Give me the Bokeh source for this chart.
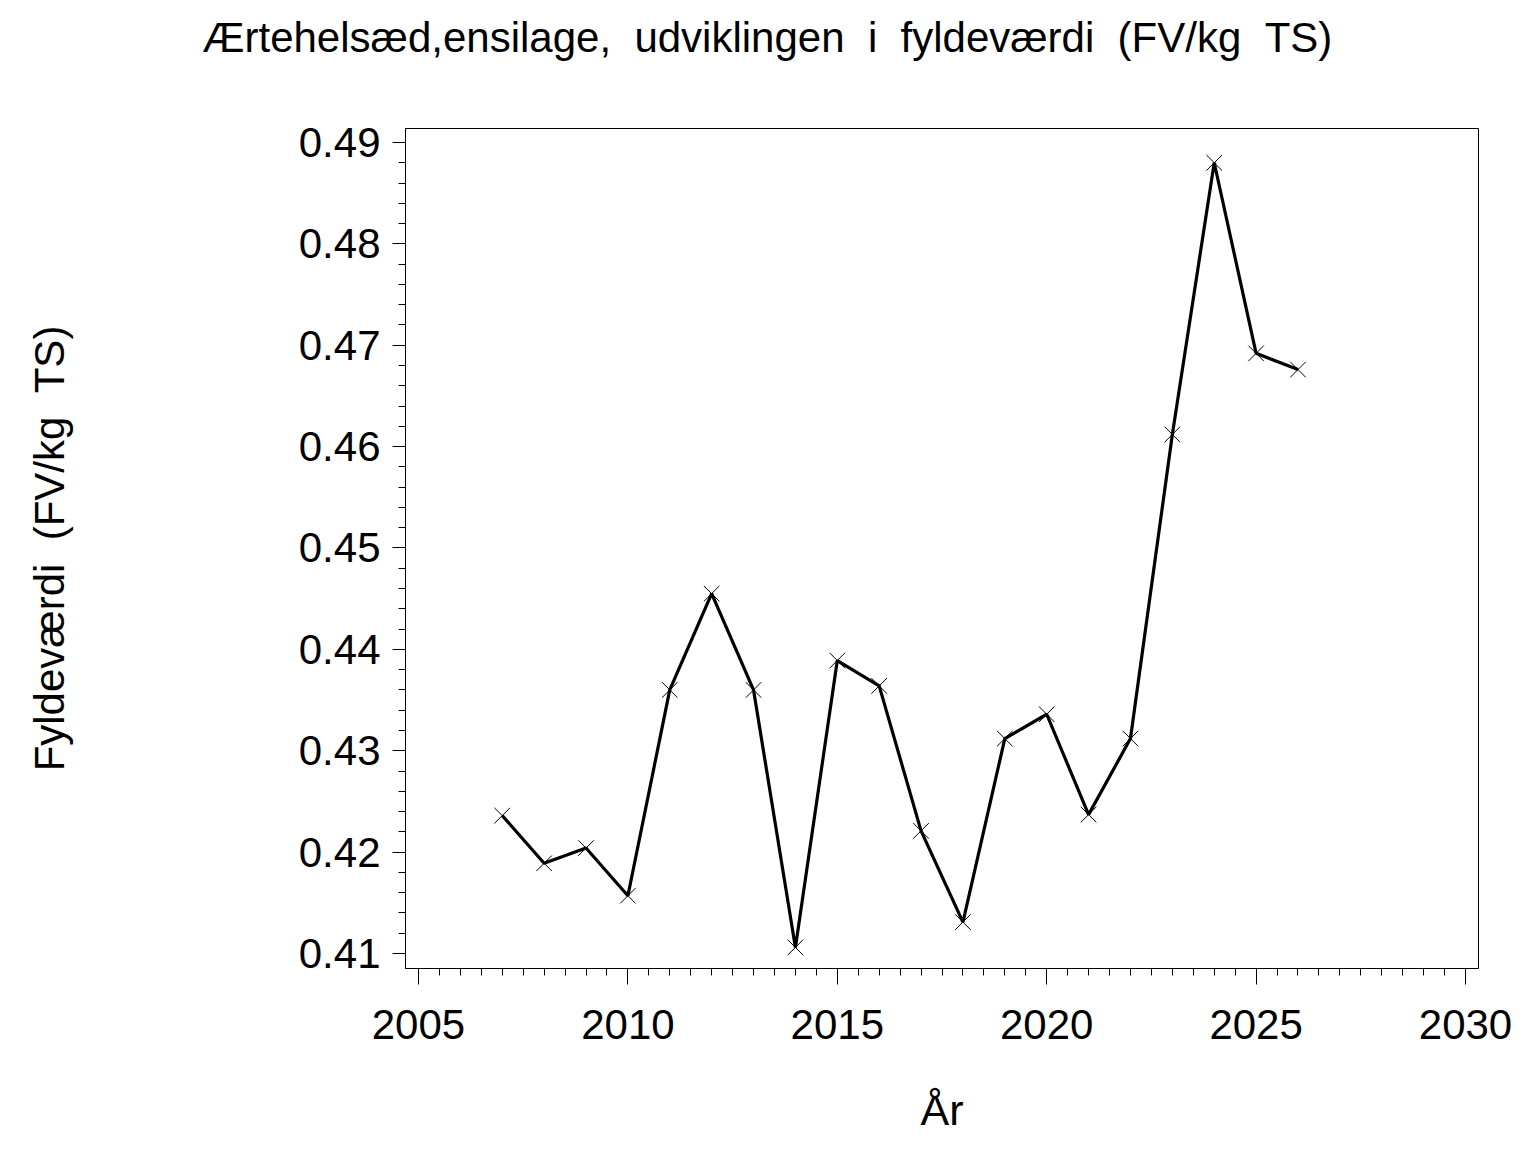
from bokeh.plotting import figure
from bokeh.models import SingleIntervalTicker, PrintfTickFormatter, Range1d
from bokeh.embed import file_html
from bokeh.resources import INLINE

years = [2007, 2008, 2009, 2010, 2011, 2012, 2013, 2014, 2015, 2016,
         2017, 2018, 2019, 2020, 2021, 2022, 2023, 2024, 2025, 2026]
fv = [0.4236, 0.4189, 0.4204, 0.4157, 0.4360, 0.4455, 0.4360, 0.4106, 0.4389, 0.4364,
      0.4221, 0.4131, 0.4312, 0.4336, 0.4237, 0.4312, 0.4612, 0.4880, 0.4692, 0.4676]

NB = "\u00a0"
title_text = f"Ærtehelsæd,ensilage, {NB}udviklingen {NB}i {NB}fyldeværdi {NB}(FV/kg {NB}TS)"
x_label = "År"
y_label = f"Fyldeværdi {NB}(FV/kg {NB}TS)"

FONT = "Liberation Sans"
FS = "42px"

W, H = 1520, 1136
FL, FR, FT, FB = 405, 1478, 128, 970   # frame edges in picture pixels

p = figure(width=W, height=H, output_backend="svg", toolbar_location=None,
           x_range=Range1d(2004.69, 2030.31), y_range=Range1d(0.40852, 0.49138),
           min_border_left=FL, min_border_right=W - FR,
           min_border_top=FT, min_border_bottom=H - FB)

p.line(years, fv, line_color="black", line_width=3.2)
p.scatter(years, fv, marker="x", size=22, line_color="black", line_width=1)

p.grid.visible = False
p.outline_line_color = "black"
p.outline_line_width = 1
p.background_fill_color = "white"
p.border_fill_color = "white"

# title: left part of the page, high above the frame (blank 2nd line lifts it)
p.title.text = title_text + "\n" + NB
p.title.text_font = FONT
p.title.text_font_size = FS
p.title.text_font_style = "normal"
p.title.text_color = "black"
p.title.text_line_height = 1.33
p.title.align = "left"
p.title.offset = 202 - FL
p.title.standoff = 10

xa = p.xaxis[0]
xa.ticker = SingleIntervalTicker(interval=5, num_minor_ticks=10)
xa.formatter = PrintfTickFormatter(format="%d")
xa.major_tick_out = 16
xa.major_tick_in = 0
xa.minor_tick_out = 7
xa.minor_tick_in = 0
xa.major_label_standoff = 25
xa.major_label_text_font = FONT
xa.major_label_text_font_size = FS
xa.major_label_text_color = "black"
xa.axis_label = x_label
xa.axis_label_text_font = FONT
xa.axis_label_text_font_size = "43px"
xa.axis_label_text_font_style = "normal"
xa.axis_label_text_color = "black"
xa.axis_label_standoff = 44
xa.axis_line_color = "black"

ya = p.yaxis[0]
ya.ticker = SingleIntervalTicker(interval=0.01, num_minor_ticks=5)
ya.formatter = PrintfTickFormatter(format="%.2f")
ya.major_tick_out = 13
ya.major_tick_in = 0
ya.minor_tick_out = 7
ya.minor_tick_in = 0
ya.major_label_standoff = 12
ya.major_label_text_font = FONT
ya.major_label_text_font_size = FS
ya.major_label_text_color = "black"
ya.axis_label = y_label
ya.axis_label_text_font = FONT
ya.axis_label_text_font_size = FS
ya.axis_label_text_font_style = "normal"
ya.axis_label_text_color = "black"
ya.axis_label_standoff = 223
ya.axis_line_color = "black"

open("out.html", "w").write(file_html(p, INLINE))
